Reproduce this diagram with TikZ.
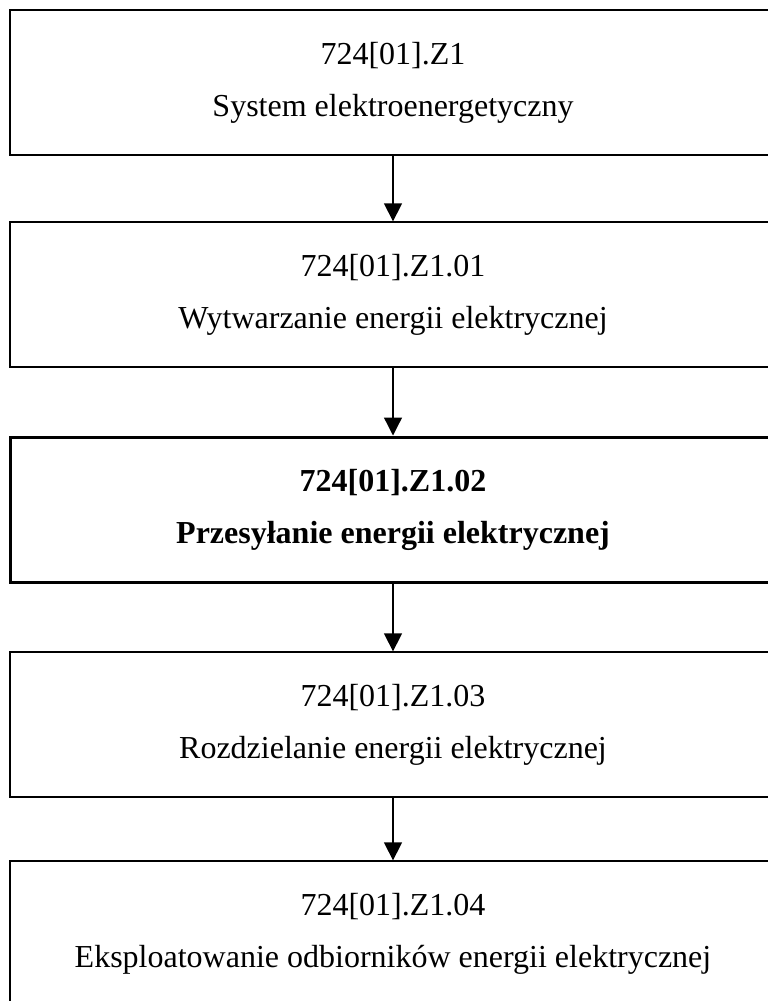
\documentclass[tikz,border=0pt]{standalone}
\usepackage{fontspec}
\setmainfont{Liberation Serif}
\usetikzlibrary{arrows.meta}
\newcommand{\lwrline}[1]{\raisebox{-4pt}{#1}}
\begin{document}
\begin{tikzpicture}[x=1pt,y=-1pt,
  box/.style={draw=black, line width=1.3pt, minimum width=766pt, minimum height=145pt,
    inner sep=0pt, align=center, font=\fontsize{32}{52}\selectfont},
  boldbox/.style={box, line width=3pt, font=\fontsize{32}{52}\selectfont\bfseries},
  conn/.style={line width=1.3pt, -{Triangle[width=18pt,length=18pt]}}]
\useasboundingbox (0,0) rectangle (768,1001);
\clip (0,0) rectangle (768,1001);
\node[box] (b1) at (393,82.5) {\lwrline{724[01].Z1}\\\lwrline{System elektroenergetyczny}};
\node[box] (b2) at (393,294.5) {\lwrline{724[01].Z1.01}\\\lwrline{Wytwarzanie energii elektrycznej}};
\node[boldbox] (b3) at (393,509.5) {\lwrline{724[01].Z1.02}\\\lwrline{Przesyłanie energii elektrycznej}};
\node[box] (b4) at (393,724.5) {\lwrline{724[01].Z1.03}\\\lwrline{Rozdzielanie energii elektrycznej}};
\node[box] (b5) at (393,933.5) {\lwrline{724[01].Z1.04}\\\lwrline{Eksploatowanie odbiorników energii elektrycznej}};
\draw[conn] (b1.south) -- (b2.north);
\draw[conn] (b2.south) -- (b3.north);
\draw[conn] (b3.south) -- (b4.north);
\draw[conn] (b4.south) -- (b5.north);
\end{tikzpicture}
\end{document}
